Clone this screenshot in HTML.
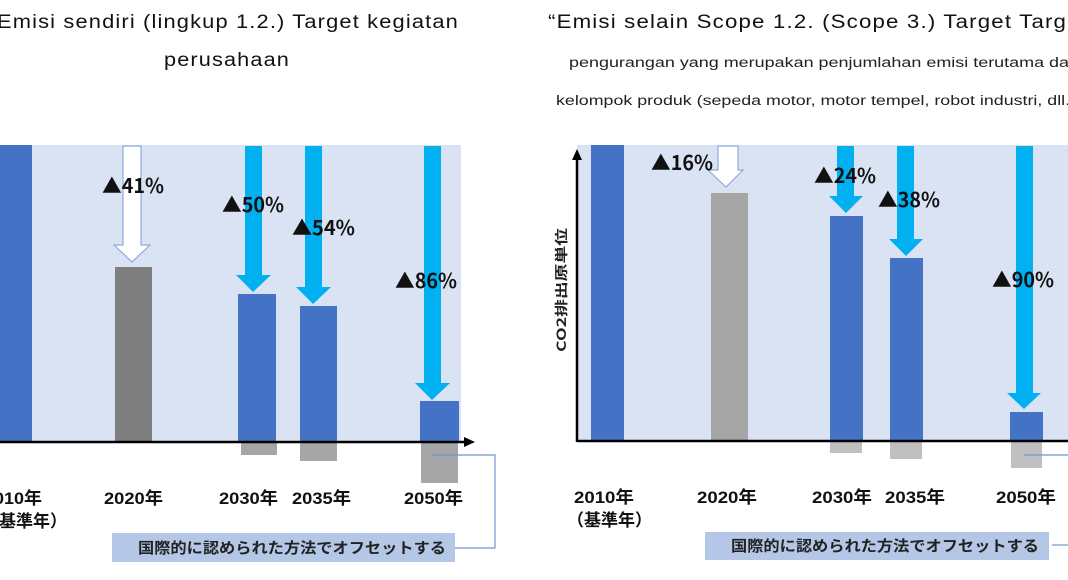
<!DOCTYPE html>
<html><head><meta charset="utf-8"><style>
html,body{margin:0;padding:0;background:#fff;width:1068px;height:580px;overflow:hidden}
svg{display:block}
text{font-family:"Liberation Sans","Noto Sans CJK JP",sans-serif;fill:#111}
.t{font-size:19px;letter-spacing:1px}
.s{font-size:13.5px;fill:#222}
.p{font-size:20px;font-weight:bold;font-family:"Noto Sans CJK JP",sans-serif}
.y{font-size:17px;font-weight:bold}
.b{font-size:15px;font-weight:bold;fill:#222;font-family:"Noto Sans CJK JP",sans-serif}
</style></head><body>
<svg width="1068" height="580" viewBox="0 0 1068 580">
<!-- titles -->
<text class="t" x="-3" y="28" textLength="462" lengthAdjust="spacingAndGlyphs">Emisi sendiri (lingkup 1.2.) Target kegiatan</text>
<text class="t" x="164" y="66" textLength="126" lengthAdjust="spacingAndGlyphs">perusahaan</text>
<text class="t" x="548" y="28" textLength="540" lengthAdjust="spacingAndGlyphs">“Emisi selain Scope 1.2. (Scope 3.) Target Target</text>
<text class="s" x="569" y="67" textLength="510" lengthAdjust="spacingAndGlyphs">pengurangan yang merupakan penjumlahan emisi terutama dari</text>
<text class="s" x="556" y="105" textLength="520" lengthAdjust="spacingAndGlyphs">kelompok produk (sepeda motor, motor tempel, robot industri, dll.)</text>

<!-- LEFT PANEL -->
<rect x="0" y="145" width="461" height="296" fill="#dae3f3"/>
<rect x="0" y="145" width="32" height="296" fill="#4472c4"/>
<rect x="115" y="267" width="37" height="174" fill="#7f7f7f"/>
<polygon points="123,146 141,146 141,245 150,245 132,262 114,245 123,245" fill="#fff" stroke="#8faadc" stroke-width="1.2"/>
<rect x="238" y="294" width="38" height="147" fill="#4472c4"/>
<rect x="241" y="441" width="36" height="14" fill="#a6a6a6"/>
<polygon points="245,146 262,146 262,275 271,275 253,292 236,275 245,275" fill="#00b0f0"/>
<rect x="300" y="306" width="37" height="135" fill="#4472c4"/>
<rect x="300" y="441" width="37" height="20" fill="#a6a6a6"/>
<polygon points="305,146 322,146 322,287 331,287 313,304 296,287 305,287" fill="#00b0f0"/>
<rect x="420" y="401" width="39" height="40" fill="#4472c4"/>
<rect x="421" y="441" width="37" height="42" fill="#a6a6a6"/>
<polygon points="424,146 441,146 441,383 450,383 432,400 415,383 424,383" fill="#00b0f0"/>
<line x1="0" y1="442" x2="466" y2="442" stroke="#000" stroke-width="2.5"/>
<polygon points="464,437 475,442 464,447" fill="#000"/>
<text class="p" x="102" y="193" textLength="62" lengthAdjust="spacingAndGlyphs">▲41%</text>
<text class="p" x="222" y="212" textLength="62" lengthAdjust="spacingAndGlyphs">▲50%</text>
<text class="p" x="292" y="235" textLength="63" lengthAdjust="spacingAndGlyphs">▲54%</text>
<text class="p" x="395" y="288" textLength="62" lengthAdjust="spacingAndGlyphs">▲86%</text>
<text class="y" x="-6" y="504" textLength="48" lengthAdjust="spacingAndGlyphs">010年</text>
<text class="y" x="-18" y="527">（基準年）</text>
<text class="y" x="104" y="504" textLength="59" lengthAdjust="spacingAndGlyphs">2020年</text>
<text class="y" x="219" y="504" textLength="59" lengthAdjust="spacingAndGlyphs">2030年</text>
<text class="y" x="292" y="504" textLength="59" lengthAdjust="spacingAndGlyphs">2035年</text>
<text class="y" x="404" y="504" textLength="59" lengthAdjust="spacingAndGlyphs">2050年</text>
<rect x="112" y="533" width="343" height="29" fill="#b4c7e7"/>
<text class="b" x="138" y="553" textLength="308" lengthAdjust="spacingAndGlyphs">国際的に認められた方法でオフセットする</text>
<polyline points="432,455 495,455 495,548 455,548" fill="none" stroke="#6f94d4" stroke-width="1.2"/>

<!-- RIGHT PANEL -->
<rect x="577" y="145" width="491" height="296" fill="#dae3f3"/>
<rect x="591" y="145" width="33" height="296" fill="#4472c4"/>
<rect x="711" y="193" width="37" height="248" fill="#a6a6a6"/>
<polygon points="718,146 738,146 738,170 743,170 726,187 708,170 718,170" fill="#fff" stroke="#8faadc" stroke-width="1.2"/>
<rect x="830" y="216" width="33" height="225" fill="#4472c4"/>
<rect x="830" y="441" width="32" height="12" fill="#c0c0c0"/>
<polygon points="837,146 854,146 854,196 863,196 846,213 829,196 837,196" fill="#00b0f0"/>
<rect x="890" y="258" width="33" height="183" fill="#4472c4"/>
<rect x="890" y="441" width="32" height="18" fill="#c0c0c0"/>
<polygon points="897,146 914,146 914,239 923,239 906,256 889,239 897,239" fill="#00b0f0"/>
<rect x="1010" y="412" width="33" height="29" fill="#4472c4"/>
<rect x="1011" y="441" width="31" height="27" fill="#c0c0c0"/>
<polygon points="1016,146 1033,146 1033,393 1041,393 1024,409 1007,393 1016,393" fill="#00b0f0"/>
<line x1="577" y1="441" x2="1068" y2="441" stroke="#000" stroke-width="2.5"/>
<line x1="577" y1="158" x2="577" y2="442" stroke="#000" stroke-width="2.5"/>
<polygon points="572,160 577,149 582,160" fill="#000"/>
<line x1="1024" y1="455" x2="1068" y2="455" stroke="#6f94d4" stroke-width="1.2"/>
<line x1="1052" y1="545" x2="1068" y2="545" stroke="#6f94d4" stroke-width="1.2"/>
<text class="p" x="651" y="170" textLength="62" lengthAdjust="spacingAndGlyphs">▲16%</text>
<text class="p" x="814" y="183" textLength="62" lengthAdjust="spacingAndGlyphs">▲24%</text>
<text class="p" x="878" y="207" textLength="62" lengthAdjust="spacingAndGlyphs">▲38%</text>
<text class="p" x="992" y="287" textLength="62" lengthAdjust="spacingAndGlyphs">▲90%</text>
<text class="b" transform="translate(566,352) rotate(-90)" style="font-size:13px" textLength="124" lengthAdjust="spacingAndGlyphs">CO2排出原単位</text>
<text class="y" x="574" y="503" textLength="60" lengthAdjust="spacingAndGlyphs">2010年</text>
<text class="y" x="567" y="526">（基準年）</text>
<text class="y" x="697" y="503" textLength="60" lengthAdjust="spacingAndGlyphs">2020年</text>
<text class="y" x="812" y="503" textLength="60" lengthAdjust="spacingAndGlyphs">2030年</text>
<text class="y" x="885" y="503" textLength="60" lengthAdjust="spacingAndGlyphs">2035年</text>
<text class="y" x="996" y="503" textLength="60" lengthAdjust="spacingAndGlyphs">2050年</text>
<rect x="705" y="532" width="344" height="28" fill="#b4c7e7"/>
<text class="b" x="731" y="551" textLength="308" lengthAdjust="spacingAndGlyphs">国際的に認められた方法でオフセットする</text>
</svg>
</body></html>
